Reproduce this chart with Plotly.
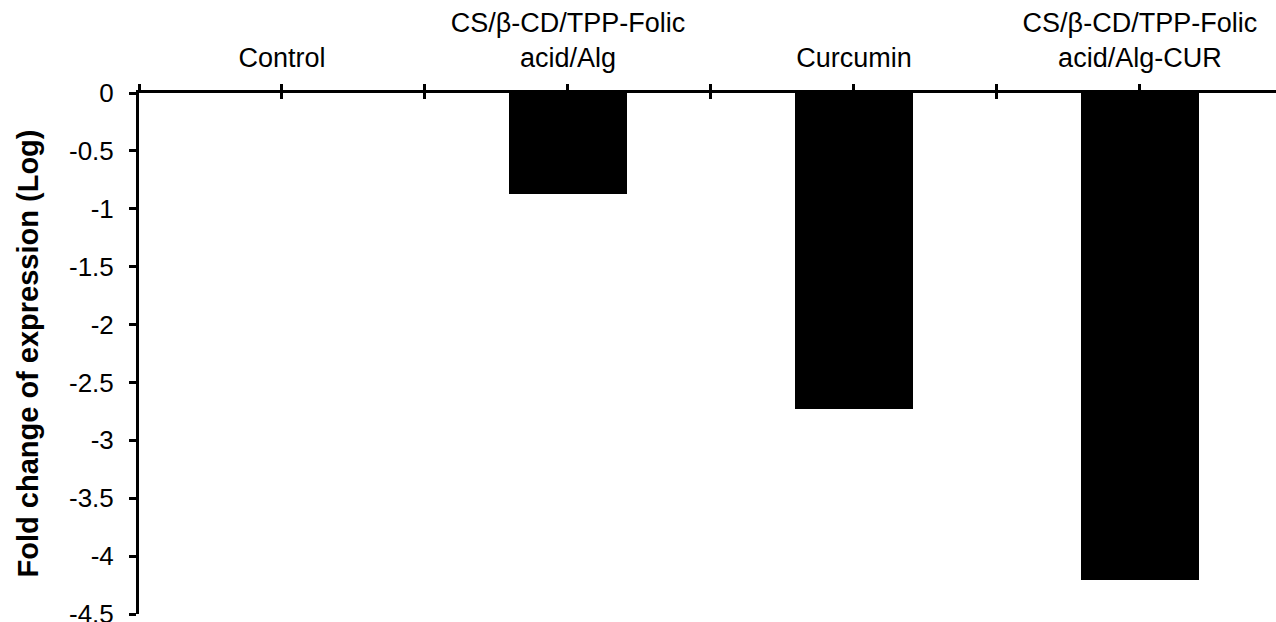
import plotly.graph_objects as go

# Treatment groups (x) and log fold change of expression (y)
categories = [
    "Control",
    "CS/β-CD/TPP-Folic<br>acid/Alg",
    "Curcumin",
    "CS/β-CD/TPP-Folic<br>acid/Alg-CUR",
]
fold_change_log = [0.0, -0.87, -2.73, -4.21]

y_tick_values = [0, -0.5, -1, -1.5, -2, -2.5, -3, -3.5, -4, -4.5]
y_tick_labels = ["0", "-0.5", "-1", "-1.5", "-2", "-2.5", "-3", "-3.5", "-4", "-4.5"]

FONT = "Liberation Sans, Arial, sans-serif"
positions = list(range(len(categories)))

# ticks sit on every category centre and every boundary between categories
x_tick_vals = [p / 2 - 0.5 for p in range(2 * len(categories) + 1)]
x_tick_text = []
for v in x_tick_vals:
    if float(v).is_integer() and 0 <= int(v) < len(categories):
        x_tick_text.append(categories[int(v)])
    else:
        x_tick_text.append("")

x_range = [-0.5, 3.476]

fig = go.Figure()
fig.add_trace(
    go.Bar(
        x=positions,
        y=fold_change_log,
        width=0.415,
        marker=dict(color="black", line=dict(width=0)),
        showlegend=False,
        hoverinfo="skip",
    )
)
# invisible trace so the overlay axis is drawn (downward half of cross ticks)
fig.add_trace(
    go.Scatter(x=[0], y=[0], xaxis="x2", mode="markers",
               marker=dict(opacity=0), showlegend=False, hoverinfo="skip")
)

fig.update_layout(
    width=1276,
    height=622,
    margin=dict(l=139, r=0, t=93, b=8, autoexpand=False),
    paper_bgcolor="white",
    plot_bgcolor="white",
    font=dict(family=FONT, size=26, color="black"),
    bargap=0,
    xaxis=dict(
        side="top",
        range=x_range,
        tickmode="array",
        tickvals=x_tick_vals,
        ticktext=x_tick_text,
        ticks="outside",
        ticklen=6,
        tickwidth=3,
        tickcolor="black",
        showline=True,
        linewidth=3,
        linecolor="black",
        showgrid=False,
        zeroline=False,
        tickfont=dict(family=FONT, size=27, color="black"),
        ticklabelstandoff=6,
    ),
    xaxis2=dict(
        side="top",
        overlaying="x",
        range=x_range,
        tickmode="array",
        tickvals=x_tick_vals,
        ticktext=["" for _ in x_tick_vals],
        ticks="inside",
        ticklen=6,
        tickwidth=3,
        tickcolor="black",
        showline=False,
        showgrid=False,
        zeroline=False,
        showticklabels=False,
    ),
    yaxis=dict(
        range=[-4.5, 0],
        tickmode="array",
        tickvals=y_tick_values,
        ticktext=y_tick_labels,
        ticks="outside",
        ticklen=7,
        tickwidth=3,
        tickcolor="black",
        showline=True,
        linewidth=3,
        linecolor="black",
        showgrid=False,
        zeroline=False,
        tickfont=dict(family=FONT, size=26, color="black"),
        ticklabelstandoff=10,
        ticklabeloverflow="allow",
        title=dict(
            text="<b>Fold change of expression (Log)</b>",
            font=dict(family=FONT, size=29, color="black"),
            standoff=22,
        ),
    ),
)

fig.write_html("out.html")
